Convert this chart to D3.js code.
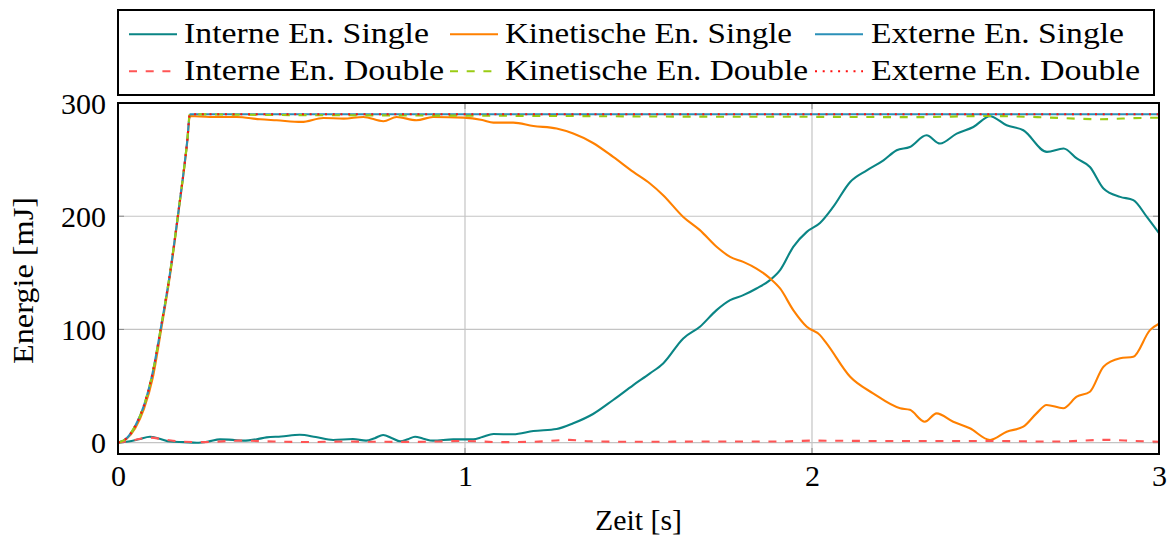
<!DOCTYPE html>
<html>
<head>
<meta charset="utf-8">
<script src="https://cdn.jsdelivr.net/npm/d3@7"></script>
<style>
  body { margin: 0; background: #fff; }
  svg { display: block; }
  svg text { font-family: "Liberation Serif", "Tinos", "Times New Roman", "DejaVu Serif", serif; fill: #000; }
</style>
</head>
<body>
<svg id="chart" width="1174" height="540"></svg>
<script>
// Axis ticks
const xTicks = [0, 1, 2, 3];
const yTicks = [0, 100, 200, 300];

// Energie [mJ] over Zeit [s]
const internSingleT = [0, 0.03, 0.06, 0.092, 0.12, 0.15, 0.19, 0.227, 0.26, 0.294, 0.33, 0.361, 0.4, 0.428, 0.47, 0.524, 0.57, 0.62, 0.677, 0.715, 0.74, 0.764, 0.79, 0.813, 0.835, 0.856, 0.88, 0.908, 0.966, 1.024, 1.05, 1.082, 1.139, 1.197, 1.264, 1.312, 1.369, 1.427, 1.485, 1.533, 1.571, 1.629, 1.677, 1.725, 1.764, 1.802, 1.84, 1.879, 1.908, 1.946, 1.985, 2.023, 2.061, 2.11, 2.158, 2.206, 2.244, 2.282, 2.33, 2.369, 2.417, 2.465, 2.513, 2.561, 2.609, 2.677, 2.725, 2.763, 2.801, 2.84, 2.888, 2.926, 2.965, 3.0];
const internSingleV = [0, 1, 3, 5.3, 3.5, 1, 0.5, 0, 1, 2.9, 2.5, 1.8, 3, 4.7, 5.5, 7, 5, 2.4, 3.2, 1.8, 4, 6.8, 4, 1.2, 3, 5.3, 3.5, 1.8, 2.9, 2.9, 5, 7.6, 7.4, 10.3, 12.1, 17.1, 25.3, 37.7, 50.9, 61.2, 70, 92.1, 102.4, 117.1, 125.9, 130.3, 136.2, 143.6, 152.4, 173, 186.2, 194, 208.2, 230.3, 240.6, 249.4, 258.3, 261.2, 271.5, 264.2, 273, 278.8, 288.3, 280.3, 275.9, 256.8, 259.8, 251, 243.5, 224.5, 217.1, 214.2, 199.4, 185];

const kinSingleT = [0, 0.025, 0.05, 0.075, 0.1, 0.125, 0.15, 0.175, 0.2, 0.207, 0.265, 0.342, 0.409, 0.457, 0.529, 0.592, 0.65, 0.707, 0.765, 0.803, 0.86, 0.908, 0.995, 1.05, 1.082, 1.139, 1.197, 1.264, 1.312, 1.369, 1.427, 1.485, 1.533, 1.571, 1.629, 1.677, 1.725, 1.764, 1.802, 1.84, 1.879, 1.908, 1.946, 1.985, 2.023, 2.042, 2.11, 2.176, 2.254, 2.282, 2.325, 2.359, 2.407, 2.455, 2.513, 2.561, 2.609, 2.647, 2.676, 2.724, 2.763, 2.801, 2.84, 2.888, 2.926, 2.974, 3.0];
const kinSingleV = [0, 3.5, 13, 30, 57, 101, 148, 205, 267, 288.5, 287.7, 287.7, 285.6, 284.7, 283.3, 286.8, 286.2, 287.7, 283.9, 287.7, 284.7, 287.7, 287.1, 285, 282.7, 282.7, 279.7, 277.4, 273, 264.7, 252.4, 239.1, 228.9, 218.6, 199.4, 187.7, 173, 164.1, 159.7, 153.8, 145.1, 136.2, 117.1, 102.4, 95, 87.7, 58.2, 43.6, 30.4, 29, 18.5, 25.9, 18.5, 12.7, 2.4, 9.7, 14.1, 25.9, 33.3, 30.4, 40.6, 45, 67.1, 74.5, 75.9, 99.4, 105];

const externSingleT = [0, 0.025, 0.05, 0.075, 0.1, 0.125, 0.15, 0.175, 0.2, 0.207, 3.0];
const externSingleV = [0, 4, 15, 33, 62, 104, 150, 206, 268, 290, 290];

const internDoubleT = [0, 0.04, 0.09, 0.13, 0.18, 0.25, 0.35, 0.45, 0.55, 0.65, 0.75, 0.85, 1.0, 1.1, 1.2, 1.3, 1.36, 1.5, 1.7, 1.9, 2.0, 2.2, 2.4, 2.5, 2.7, 2.85, 2.93, 3.0];
const internDoubleV = [0, 2, 4.5, 3, 1, 0.5, 1.8, 1, 0.6, 1, 0.8, 0.7, 1.5, 0.5, 0.8, 2.5, 1.2, 0.8, 1, 1, 1.8, 1.5, 1.5, 1.5, 1, 2.5, 1.5, 0.8];

const kinDoubleT = [0, 0.025, 0.05, 0.075, 0.1, 0.125, 0.15, 0.175, 0.2, 0.207, 0.4, 0.8, 1.0, 1.3, 1.6, 2.0, 2.3, 2.5, 2.65, 2.83, 2.95, 3.0];
const kinDoubleV = [0, 4, 15, 33, 62, 104, 150, 206, 268, 290, 289.5, 289, 288.8, 288.5, 288, 287.8, 287.5, 288.5, 287.5, 285.7, 286.8, 287];

const externDoubleT = [0, 0.025, 0.05, 0.075, 0.1, 0.125, 0.15, 0.175, 0.2, 0.207, 3.0];
const externDoubleV = [0, 4, 15, 33, 62, 104, 150, 206, 268, 290, 290];

const FONT = "'Liberation Serif', 'Tinos', 'Times New Roman', 'DejaVu Serif', serif";

const series = [
  { name: "Interne En. Single",    t: internSingleT, v: internSingleV, color: "#0a8585", dash: null },
  { name: "Kinetische En. Single", t: kinSingleT,    v: kinSingleV,    color: "#ff8000", dash: null },
  { name: "Externe En. Single",    t: externSingleT, v: externSingleV, color: "#2b90b8", dash: null },
  { name: "Interne En. Double",    t: internDoubleT, v: internDoubleV, color: "#ff5555", dash: "8,8.7" },
  { name: "Kinetische En. Double", t: kinDoubleT,    v: kinDoubleV,    color: "#9acc14", dash: "8,8.7" },
  { name: "Externe En. Double",    t: externDoubleT, v: externDoubleV, color: "#ff1010", dash: "2,5.7" }
];

const svg = d3.select("#chart").attr("font-family", FONT);
const plot = { left: 118, right: 1159, top: 103, bottom: 454 };

const x = d3.scaleLinear().domain([0, 3]).range([plot.left, plot.right]);
const y = d3.scaleLinear().domain([-10, 300]).range([plot.bottom, plot.top]);

// grid
const grid = svg.append("g");
grid.selectAll("line.gx").data(xTicks).join("line")
  .attr("x1", d => x(d)).attr("x2", d => x(d))
  .attr("y1", plot.top).attr("y2", plot.bottom)
  .attr("stroke", "#c4c4c4").attr("stroke-width", 1.2);
grid.selectAll("line.gy").data(yTicks).join("line")
  .attr("x1", plot.left).attr("x2", plot.right)
  .attr("y1", d => y(d)).attr("y2", d => y(d))
  .attr("stroke", "#c4c4c4").attr("stroke-width", 1.2);

// inner tick marks
const tickLen = 6;
const ticks = svg.append("g").attr("stroke", "#8a8a8a").attr("stroke-width", 1);
xTicks.forEach(d => {
  ticks.append("line").attr("x1", x(d)).attr("x2", x(d)).attr("y1", plot.bottom).attr("y2", plot.bottom - tickLen);
  ticks.append("line").attr("x1", x(d)).attr("x2", x(d)).attr("y1", plot.top).attr("y2", plot.top + tickLen);
});
yTicks.forEach(d => {
  ticks.append("line").attr("x1", plot.left).attr("x2", plot.left + tickLen).attr("y1", y(d)).attr("y2", y(d));
  ticks.append("line").attr("x1", plot.right).attr("x2", plot.right - tickLen).attr("y1", y(d)).attr("y2", y(d));
});

// tick labels via d3 axes
const xAxis = svg.append("g").attr("transform", `translate(0,${plot.bottom})`)
  .call(d3.axisBottom(x).tickValues(xTicks).tickFormat(d3.format("d")).tickSize(0).tickPadding(0));
xAxis.attr("font-family", FONT).attr("font-size", 30);
xAxis.select(".domain").remove();
xAxis.selectAll("text").attr("y", 32).attr("dy", 0).attr("fill", "#000");

const yAxis = svg.append("g").attr("transform", `translate(${plot.left},0)`)
  .call(d3.axisLeft(y).tickValues(yTicks).tickFormat(d3.format("d")).tickSize(0).tickPadding(0));
yAxis.attr("font-family", FONT).attr("font-size", 30);
yAxis.select(".domain").remove();
yAxis.selectAll("text").attr("x", -12).attr("dy", 10).attr("fill", "#000");

// data lines
svg.append("clipPath").attr("id", "plotClip").append("rect")
  .attr("x", plot.left).attr("y", plot.top)
  .attr("width", plot.right - plot.left).attr("height", plot.bottom - plot.top);

const line = d3.line()
  .x(d => x(d[0])).y(d => y(d[1]))
  .curve(d3.curveMonotoneX);

const lines = svg.append("g").attr("clip-path", "url(#plotClip)");
series.forEach(s => {
  const pts = s.t.map((t, i) => [t, s.v[i]]);
  lines.append("path")
    .attr("d", line(pts))
    .attr("fill", "none")
    .attr("stroke", s.color)
    .attr("stroke-width", 2.1)
    .attr("stroke-linejoin", "round")
    .attr("stroke-dasharray", s.dash);
});

// axis frame
svg.append("rect")
  .attr("x", plot.left).attr("y", plot.top)
  .attr("width", plot.right - plot.left).attr("height", plot.bottom - plot.top)
  .attr("fill", "none").attr("stroke", "#000").attr("stroke-width", 2);

// axis titles
svg.append("text")
  .attr("x", (plot.left + plot.right) / 2).attr("y", 530)
  .attr("text-anchor", "middle").attr("font-size", 30)
  .attr("textLength", 87).attr("lengthAdjust", "spacingAndGlyphs")
  .text("Zeit [s]");

svg.append("text")
  .attr("transform", `translate(33,${(plot.top + plot.bottom) / 2 + 2}) rotate(-90)`)
  .attr("text-anchor", "middle").attr("font-size", 30)
  .attr("textLength", 167).attr("lengthAdjust", "spacingAndGlyphs")
  .text("Energie [mJ]");

// legend
const legendBox = { x: 118, y: 10, w: 1036, h: 85 };
const legend = svg.append("g");
legend.append("rect")
  .attr("x", legendBox.x).attr("y", legendBox.y)
  .attr("width", legendBox.w).attr("height", legendBox.h)
  .attr("fill", "#fff").attr("stroke", "#000").attr("stroke-width", 2);

const colSample = [129, 450, 815];
const colText = [184, 505, 871];
const rowMid = [34.3, 71.3];
const rowBase = [43, 80];
const textWidths = [245, 287, 253, 260, 303, 269];

series.forEach((s, i) => {
  const col = i % 3, row = Math.floor(i / 3);
  legend.append("line")
    .attr("x1", colSample[col]).attr("x2", colSample[col] + 48)
    .attr("y1", rowMid[row]).attr("y2", rowMid[row])
    .attr("stroke", s.color).attr("stroke-width", 2.1)
    .attr("stroke-dasharray", s.dash);
  legend.append("text")
    .attr("x", colText[col]).attr("y", rowBase[row])
    .attr("font-size", 30)
    .attr("textLength", textWidths[i]).attr("lengthAdjust", "spacingAndGlyphs")
    .text(s.name);
});
</script>
</body>
</html>
